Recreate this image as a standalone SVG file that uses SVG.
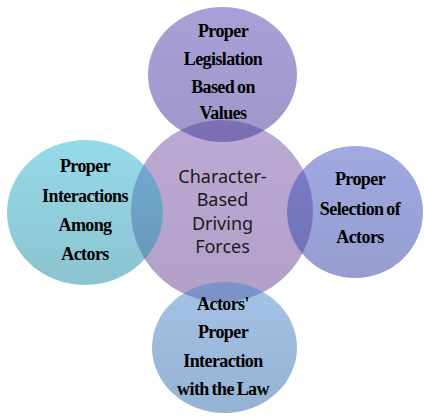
<svg xmlns="http://www.w3.org/2000/svg" width="424" height="417" viewBox="0 0 424 417">
  <defs>
    <!-- translucent vertical gradients, one per bubble -->
    <linearGradient id="gCenter" x1="0" y1="0" x2="0" y2="1">
      <stop offset="0" stop-color="#7955ad"/>
      <stop offset="1" stop-color="#654191"/>
    </linearGradient>
    <linearGradient id="gTop" x1="0" y1="0" x2="0" y2="1">
      <stop offset="0" stop-color="#5541af"/>
      <stop offset="1" stop-color="#3d3391"/>
    </linearGradient>
    <linearGradient id="gLeft" x1="0" y1="0" x2="0" y2="1">
      <stop offset="0" stop-color="#2db5d1"/>
      <stop offset="1" stop-color="#1987a1"/>
    </linearGradient>
    <linearGradient id="gRight" x1="0" y1="0" x2="0" y2="1">
      <stop offset="0" stop-color="#4155c3"/>
      <stop offset="1" stop-color="#2d3da1"/>
    </linearGradient>
    <linearGradient id="gBottom" x1="0" y1="0" x2="0" y2="1">
      <stop offset="0" stop-color="#4b87cd"/>
      <stop offset="1" stop-color="#2d65a9"/>
    </linearGradient>
  </defs>
  <style>
    .bubble { fill-opacity: 0.5; stroke: none; }
    .label { font-family: "Liberation Serif", "Times New Roman", serif; font-weight: bold; font-size: 18px; letter-spacing: -0.6px; word-spacing: -1px; fill: #000; text-anchor: middle; }
    .hub { font-family: "Noto Sans", "Liberation Sans", sans-serif; font-size: 18px; fill: #1a1a1a; text-anchor: middle; }
  </style>

  <rect width="424" height="417" fill="#ffffff"/>

  <g id="hub">
    <ellipse class="bubble" cx="222" cy="211" rx="91" ry="91" fill="url(#gCenter)"/>
    <text class="hub" x="222.5" y="183">Character-</text>
    <text class="hub" x="222.5" y="206">Based</text>
    <text class="hub" x="222.5" y="230">Driving</text>
    <text class="hub" x="222.5" y="253">Forces</text>
  </g>

  <g id="legislation">
    <ellipse class="bubble" cx="222.5" cy="74.5" rx="74.5" ry="67.5" fill="url(#gTop)"/>
    <text class="label" x="223" y="37">Proper</text>
    <text class="label" x="223" y="65">Legislation</text>
    <text class="label" x="223" y="92.5">Based on</text>
    <text class="label" x="223" y="119">Values</text>
  </g>

  <g id="interactions">
    <ellipse class="bubble" cx="85" cy="212.5" rx="78" ry="72.5" fill="url(#gLeft)"/>
    <text class="label" x="85" y="172">Proper</text>
    <text class="label" x="85" y="202">Interactions</text>
    <text class="label" x="85" y="231">Among</text>
    <text class="label" x="85" y="260">Actors</text>
  </g>

  <g id="selection">
    <ellipse class="bubble" cx="355" cy="212" rx="68" ry="66" fill="url(#gRight)"/>
    <text class="label" x="360" y="185">Proper</text>
    <text class="label" x="360" y="215">Selection of</text>
    <text class="label" x="360" y="243">Actors</text>
  </g>

  <g id="law">
    <ellipse class="bubble" cx="224.5" cy="347.5" rx="72.5" ry="65.5" fill="url(#gBottom)"/>
    <text class="label" x="223" y="310">Actors'</text>
    <text class="label" x="223" y="338">Proper</text>
    <text class="label" x="223" y="367">Interaction</text>
    <text class="label" x="223" y="395">with the Law</text>
  </g>
</svg>
